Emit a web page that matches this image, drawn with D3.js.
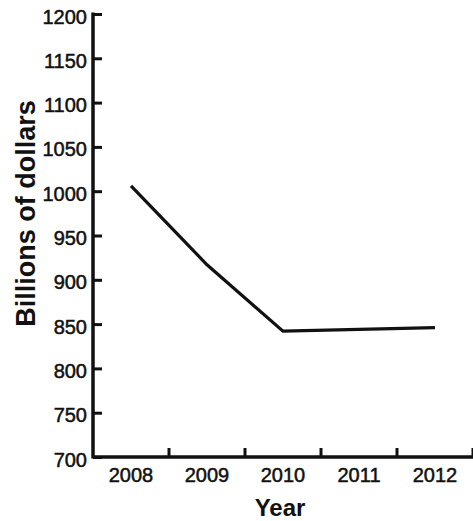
<!DOCTYPE html>
<html>
<head>
<meta charset="utf-8">
<script src="https://cdn.jsdelivr.net/npm/d3@7"></script>
<style>
  html, body { margin: 0; padding: 0; background: #ffffff; }
  svg { display: block; }
  text { font-family: "Liberation Sans", Arial, Helvetica, sans-serif; fill: #111; }
</style>
</head>
<body>
<svg id="chart" width="473" height="521"></svg>
<script>
const years = ["2008", "2009", "2010", "2011", "2012"];
const values = [1006, 917, 842, 844, 846];
const yTicks = [700, 750, 800, 850, 900, 950, 1000, 1050, 1100, 1150, 1200];
const xTitle = "Year";
const yTitle = "Billions of dollars";

(function () {
const svg = d3.select("#chart");
const mLeft = 93, mRight = 473, mTop = 14, mBottom = 457;

const x = d3.scaleBand().domain(years).range([mLeft, mRight]).paddingInner(0).paddingOuter(0);
const y = d3.scaleLinear().domain([700, 1200]).range([mBottom, mTop]);

const ink = "#111";

// Y axis: ticks inward (right), labels left
const yAxis = svg.append("g")
  .attr("transform", `translate(${mLeft},0)`)
  .call(d3.axisLeft(y).tickValues(yTicks).tickSize(-9).tickPadding(6).tickFormat(d3.format("d")));
yAxis.select(".domain").remove();
yAxis.selectAll(".tick line").attr("stroke", ink).attr("stroke-width", 3);
yAxis.selectAll(".tick text")
  .attr("font-size", 20)
  .attr("dy", null)
  .attr("y", 9)
  .style("font-family", "'Liberation Sans', Arial, sans-serif")
  .attr("fill", ink)
  .attr("stroke", ink)
  .attr("stroke-width", 0.5);

// Y axis line
svg.append("line")
  .attr("x1", mLeft).attr("x2", mLeft)
  .attr("y1", y(1200) - 1.5).attr("y2", mBottom + 1.5)
  .attr("stroke", ink).attr("stroke-width", 3.5);

// X axis labels (band centered)
const xAxis = svg.append("g")
  .attr("transform", `translate(0,${mBottom})`)
  .call(d3.axisBottom(x).tickSize(0).tickPadding(8));
xAxis.select(".domain").remove();
xAxis.selectAll(".tick text")
  .attr("font-size", 20)
  .attr("dy", null)
  .attr("y", 25)
  .style("font-family", "'Liberation Sans', Arial, sans-serif")
  .attr("fill", ink)
  .attr("stroke", ink)
  .attr("stroke-width", 0.5);

// X axis line
svg.append("line")
  .attr("x1", mLeft).attr("x2", mRight)
  .attr("y1", mBottom).attr("y2", mBottom)
  .attr("stroke", ink).attr("stroke-width", 3.5);

// X boundary ticks (upward)
svg.append("g").selectAll("line")
  .data(years)
  .join("line")
  .attr("x1", d => x(d) + x.bandwidth())
  .attr("x2", d => x(d) + x.bandwidth())
  .attr("y1", mBottom)
  .attr("y2", mBottom - 9)
  .attr("stroke", ink).attr("stroke-width", 3);

// Data line
const line = d3.line()
  .x((d, i) => x(years[i]) + x.bandwidth() / 2)
  .y(d => y(d));
svg.append("path")
  .datum(values)
  .attr("d", line)
  .attr("fill", "none")
  .attr("stroke", ink)
  .attr("stroke-width", 3.2)
  .attr("stroke-linejoin", "miter");

// Titles
svg.append("text")
  .attr("x", (mLeft + mRight) / 2 - 3)
  .attr("y", 516)
  .attr("text-anchor", "middle")
  .attr("font-size", 24)
  .attr("font-weight", "bold")
  .text(xTitle);

svg.append("text")
  .attr("transform", `translate(35,${(98 + 329) / 2}) rotate(-90)`)
  .attr("text-anchor", "middle")
  .attr("font-size", 27)
  .attr("font-weight", "bold")
  .text(yTitle);
})();
</script>
</body>
</html>
